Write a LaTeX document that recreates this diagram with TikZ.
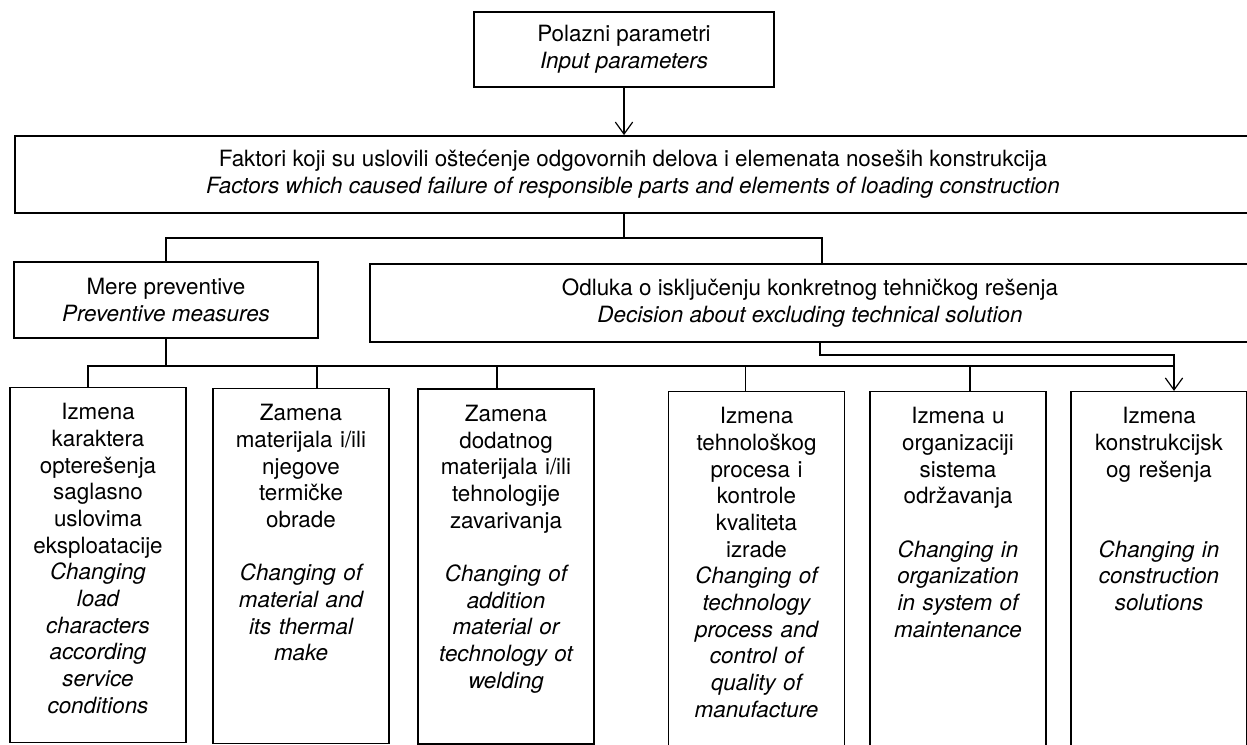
\documentclass[tikz,border=0pt]{standalone}
\usepackage{fontspec}
\setmainfont{TeX Gyre Heros}
\usetikzlibrary{arrows.meta}

\tikzstyle{block}=[shape=rectangle,draw,line width=1.1pt,inner sep=0pt,align=center]
\tikzstyle{cell}=[block,minimum width=132pt,minimum height=266pt]
\tikzstyle{txt}=[align=center,text width=150pt,inner sep=0pt,anchor=north]

\begin{document}
\begin{tikzpicture}[x=0.75pt, y=-0.75pt, >={Straight Barb[length=9pt,width=13pt]}, line width=0.9pt, font=\fontsize{16.8}{20}\selectfont]
	\useasboundingbox (0,0) rectangle (1247,745);
	\node[block, minimum width=225pt, minimum height=56pt] (start) at (624,49.5) {Polazni parametri\\ \textit{Input parameters}};
	\node[block, minimum width=927pt, minimum height=58pt] (faktori) at (633,174.5) {Faktori koji su uslovili oštećenje odgovornih delova i elemenata noseših konstrukcija\\ \textit{Factors which caused failure of responsible parts and elements of loading construction}};
	\node[block, minimum width=228pt, minimum height=57pt] (mere) at (166,300) {Mere preventive\\ \textit{Preventive measures}};
	\node[block, minimum width=660pt, minimum height=58.5pt] (odluka) at (810,303) {Odluka o isključenju konkretnog tehničkog rešenja\\ \textit{Decision about excluding technical solution}};
	\foreach \pos/\x/\y in {1/98/565, 2/301/566, 3/506/566.5, 4/756.5/569, 5/958/569, 6/1159/569}
	\node[cell] (b\pos) at (\x,\y) {};
	\node[txt] (t1) at ([yshift=-12pt]b1.north) {Izmena\\ karaktera\\ opterešenja\\ saglasno\\ uslovima\\ eksploatacije\\ \itshape Changing\\ load\\ characters\\ according\\ service\\ conditions};
	\node[txt] (t2) at ([yshift=-12pt]b2.north) {Zamena\\ materijala i/ili\\ njegove\\ termičke\\ obrade\\[20pt] \itshape Changing of\\ material and\\ its thermal\\ make};
	\node[txt] (t3) at ([yshift=-12pt]b3.north) {Zamena\\ dodatnog\\ materijala i/ili\\ tehnologije\\ zavarivanja\\[20pt] \itshape Changing of\\ addition\\ material or\\ technology ot\\ welding};
	\node[txt] (t4) at ([yshift=-12pt]b4.north) {Izmena\\ tehnološkog\\ procesa i\\ kontrole\\ kvaliteta\\ izrade\\ \itshape Changing of\\ technology\\ process and\\ control of\\ quality of\\ manufacture};
	\node[txt] (t5) at ([yshift=-12pt]b5.north) {Izmena u\\ organizaciji\\ sistema\\ održavanja\\[20pt] \itshape Changing in\\ organization\\ in system of\\ maintenance};
	\node[txt] (t6) at ([yshift=-12pt]b6.north) {Izmena\\ konstrukcijsk\\ og rešenja\\[40pt] \itshape Changing in\\ construction\\ solutions};
	\coordinate (split) at (624,238);
	\coordinate (route) at (1174,355);
	\coordinate (bus) at (166,366);
	\draw[->] (start.south) -- (start.south |- faktori.north);
	\draw (start.south |- faktori.south) -- (split);
	\draw (mere.north) |- (split) -| ([xshift=9pt]odluka.north);
	\draw (mere.south) -- (bus);
	\draw ([xshift=-7.5pt]b1.north) |- (route |- bus);
\foreach \b/\dx in {b2/12pt, b3/-6.75pt, b4/-8.25pt, b5/9pt}
	\draw ([xshift=\dx]\b.north) -- ([xshift=\dx]\b.north |- bus);
	\draw[->] ([xshift=7.5pt]odluka.south) |- (route) -- (route |- b6.north);
\end{tikzpicture}
\end{document}
